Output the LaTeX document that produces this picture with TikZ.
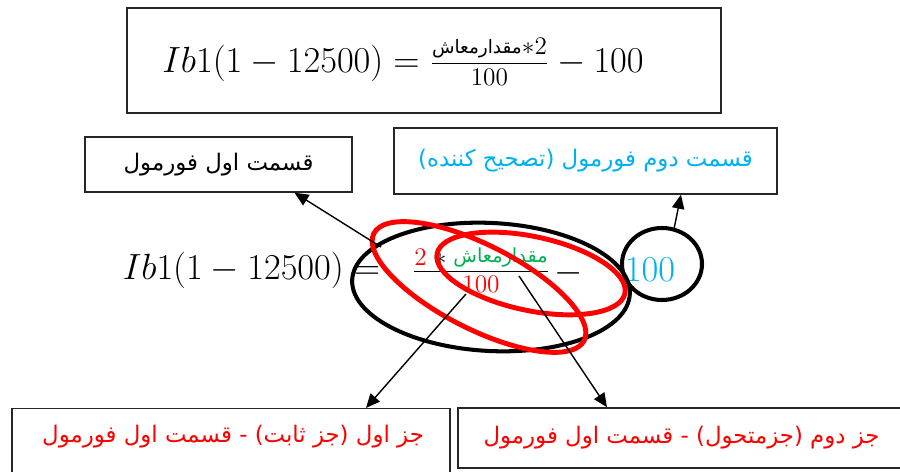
\documentclass[tikz,border=0pt]{standalone}
\usepackage{fontspec}
\usepackage{xcolor}
\newfontfamily\arabicfont[Script=Arabic]{DejaVu Sans}
\TeXXeTstate=1
\usetikzlibrary{arrows.meta}

\definecolor{cyantxt}{RGB}{0,176,240}
\definecolor{greentxt}{RGB}{0,176,80}
\newcommand{\fa}[1]{{\arabicfont\beginR #1\endR}}

\begin{document}
\begin{tikzpicture}[
  x=0.02cm,y=-0.02cm,
  >={Triangle[length=8pt,width=7pt]},
  fbox/.style={rectangle,draw=black!85,line width=0.8pt,inner sep=0pt},
  fatxt/.style={font=\fontsize{13}{15}\selectfont},
  eq/.style={font=\fontsize{20.5}{24}\selectfont,inner sep=0pt},
  ring/.style={draw=black,line width=2.3pt},
  redring/.style={draw=red,line width=2.8pt},
  arr/.style={->,line width=0.8pt}
]
\clip (0,0) rectangle (900,472);

% ---- top formula ----
\node[fbox,line width=1pt,minimum width=11.88cm,minimum height=2.1cm] (topbox) at (424,60.5) {};
\node[eq,font=\fontsize{19.2}{22}\selectfont] (topeq) at (403,62)
  {$Ib1(1-12500)=\frac{\raisebox{3pt}{\fontsize{10.5}{12}\selectfont\fa{مقدارمعاش}}\raisebox{2pt}{$\scriptstyle{*}2$}}{100}-100$};

% ---- labels of the two parts ----
\node[fbox,fatxt,minimum width=5.34cm,minimum height=1.1cm] (first) at (218.5,164.5)
  {\fa{قسمت اول فورمول}};
\node[fbox,fatxt,text=cyantxt,minimum width=7.66cm,minimum height=1.32cm] (second) at (585.5,161)
  {\fa{قسمت دوم فورمول (تصحیح کننده)}};

% ---- middle formula ----
\node[eq] (lhs) at (251.5,270) {$Ib1(1-12500)=$};
\node[eq] (frac) at (481,270)
  {$\frac{\textcolor{red}{2}\;{*}\;\raisebox{2pt}{\fontsize{11}{12}\selectfont\color{greentxt}\fa{مقدارمعاش}}}{\textcolor{red}{100}}$};
\node[eq] (minus) at (569,273) {$-$};
\node[eq,text=cyantxt] (hund) at (650,270) {$100$};

% ---- rings ----
\draw[ring,rotate around={-3:(491,287)}] (491,287) ellipse [x radius=139,y radius=64];
\draw[ring] (662,264) ellipse [x radius=40,y radius=36];
\draw[redring,rotate around={-27:(479,287)}] (479,287) ellipse [x radius=118,y radius=42];
\draw[redring,rotate around={-12:(531,273.5)}] (531,273.5) ellipse [x radius=96,y radius=37];

% ---- bottom boxes ----
\node[fbox,minimum width=8.76cm,minimum height=1.6cm,anchor=north] (lbox) at (231,408) {};
\node[fatxt,text=red] (ltext) at (233,437) {\fa{جز اول (جز ثابت) - قسمت اول فورمول}};
\node[fbox,fatxt,text=red,minimum width=8.94cm,minimum height=1.2cm] (rbox) at (681.5,438)
  {\fa{جز دوم (جزمتحول) - قسمت اول فورمول}};

% ---- arrows ----
\coordinate (ellpt) at (381,247);
\coordinate (circpt) at (674,229);
\coordinate (denpt) at (466,294);
\coordinate (barpt) at (519,276);
\draw[arr] (ellpt) -- ([xshift=1.52cm]first.south);
\draw[arr] (circpt) -- ([xshift=1.91cm]second.south);
\draw[arr] (denpt) -- ([xshift=2.7cm]lbox.north);
\draw[arr] (barpt) -- ([xshift=-1.49cm]rbox.north);

\end{tikzpicture}
\end{document}
